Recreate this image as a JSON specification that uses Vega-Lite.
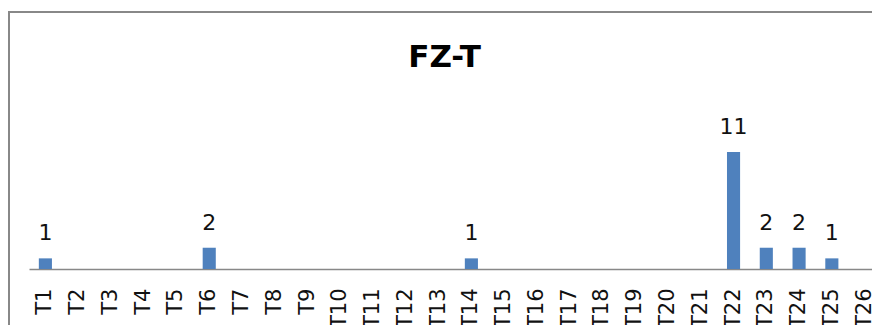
{
  "$schema": "https://vega.github.io/schema/vega-lite/v6.json",
  "width": 863,
  "height": 313,
  "autosize": {"type": "none"},
  "padding": {"left": 9, "top": 12, "right": 0, "bottom": 0},
  "background": "white",
  "title": {
    "text": "FZ-T",
    "font": "DejaVu Sans",
    "fontSize": 31,
    "fontWeight": "bold",
    "color": "#000000",
    "anchor": "middle",
    "frame": "group",
    "baseline": "alphabetic",
    "offset": -56,
    "dx": 4,
    "dy": 30
  },
  "data": {
    "values": [
      {"t": "T1", "v": 1}, {"t": "T2", "v": 0}, {"t": "T3", "v": 0}, {"t": "T4", "v": 0},
      {"t": "T5", "v": 0}, {"t": "T6", "v": 2}, {"t": "T7", "v": 0}, {"t": "T8", "v": 0},
      {"t": "T9", "v": 0}, {"t": "T10", "v": 0}, {"t": "T11", "v": 0}, {"t": "T12", "v": 0},
      {"t": "T13", "v": 0}, {"t": "T14", "v": 1}, {"t": "T15", "v": 0}, {"t": "T16", "v": 0},
      {"t": "T17", "v": 0}, {"t": "T18", "v": 0}, {"t": "T19", "v": 0}, {"t": "T20", "v": 0},
      {"t": "T21", "v": 0}, {"t": "T22", "v": 11}, {"t": "T23", "v": 2}, {"t": "T24", "v": 2},
      {"t": "T25", "v": 1}, {"t": "T26", "v": 0}
    ]
  },
  "encoding": {
    "x": {
      "field": "t",
      "type": "nominal",
      "sort": null,
      "scale": {"range": [20, 872], "paddingInner": 0.6, "paddingOuter": 0.3},
      "axis": {
        "title": null,
        "orient": "bottom",
        "offset": -56,
        "labelAngle": -90,
        "labelFont": "DejaVu Sans",
        "labelFontSize": 21,
        "labelColor": "#111111",
        "labelPadding": 19,
        "ticks": false,
        "tickSize": 0,
        "domainColor": "#888888",
        "domainWidth": 1.5,
        "grid": false
      }
    },
    "y": {
      "field": "v",
      "type": "quantitative",
      "scale": {"domain": [0, 12], "range": [257, 129.4], "nice": false, "zero": true},
      "axis": null
    }
  },
  "layer": [
    {
      "mark": {"type": "bar", "color": "#4F81BD"}
    },
    {
      "transform": [{"filter": "datum.v > 0"}],
      "mark": {
        "type": "text",
        "font": "DejaVu Sans",
        "fontSize": 22,
        "color": "#111111",
        "baseline": "alphabetic",
        "dy": -18
      },
      "encoding": {"text": {"field": "v", "type": "quantitative"}}
    }
  ],
  "config": {
    "view": {
      "stroke": "#888888",
      "strokeWidth": 2,
      "strokeDash": [863, 1176, 313, 10]
    }
  }
}
